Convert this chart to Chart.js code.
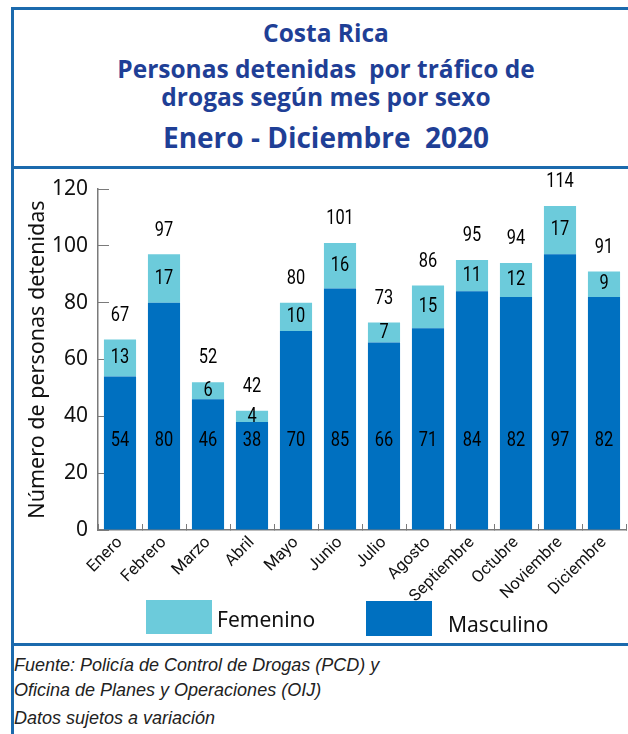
<!DOCTYPE html>
<html>
<head>
<meta charset="utf-8">
<script src="https://cdn.jsdelivr.net/npm/chart.js"></script>
<style>
  body { margin: 0; background: #fff; }
  #page { position: relative; width: 628px; height: 734px; overflow: hidden; background: #fff; }
  .rule { position: absolute; background: #1b6aad; }
  .ttl { position: absolute; left: 12px; width: 628px; text-align: center; color: #1f3f96; line-height: 1;
         font-family: "Open Sans", sans-serif; font-weight: 700; white-space: pre; }
  .foot { position: absolute; left: 14px; font-family: "Liberation Sans", sans-serif; font-style: italic;
          font-size: 18px; color: #222; white-space: pre; }
  #chartBox { position: absolute; left: 14px; top: 170px; width: 614px; height: 473px; }
  .lg-box { position: absolute; }
  .lg-txt { position: absolute; font-family: "Noto Sans", sans-serif; font-size: 21px; color: #111; }
</style>
</head>
<body>
<div id="page">
  <div class="rule" style="left:11px;top:7px;width:617px;height:3px"></div>
  <div class="rule" style="left:11px;top:7px;width:3px;height:727px"></div>
  <div class="rule" style="left:11px;top:166px;width:617px;height:3px"></div>
  <div class="rule" style="left:11px;top:643px;width:617px;height:3px"></div>

  <div class="ttl" style="top:21px;font-size:24.5px">Costa Rica</div>
  <div class="ttl" style="top:57px;font-size:24.5px">Personas detenidas  por tráfico de</div>
  <div class="ttl" style="top:85px;font-size:24.5px">drogas según mes por sexo</div>
  <div class="ttl" style="top:123px;font-size:28px">Enero - Diciembre  2020</div>

  <div id="chartBox"><canvas id="chart"></canvas></div>
  <div id="legend"></div>

  <div class="foot" style="top:655px">Fuente: Policía de Control de Drogas (PCD) y</div>
  <div class="foot" style="top:680px">Oficina de Planes y Operaciones (OIJ)</div>
  <div class="foot" style="top:708px">Datos sujetos a variación</div>
</div>

<script>
// values
const meses = ['Enero', 'Febrero', 'Marzo', 'Abril', 'Mayo', 'Junio', 'Julio',
               'Agosto', 'Septiembre', 'Octubre', 'Noviembre', 'Diciembre'];
const masculino = [54, 80, 46, 38, 70, 85, 66, 71, 84, 82, 97, 82];
const femenino = [13, 17, 6, 4, 10, 16, 7, 15, 11, 12, 17, 9];
const yTicks = [0, 20, 40, 60, 80, 100, 120];

const COLOR_MASC = '#0070c0';
const COLOR_FEM = '#6ccbdb';
const AXIS_GREY = '#7a7a7a';

// condensed-looking text: squeeze horizontally
function narrowText(ctx, txt, x, y, squeeze) {
    ctx.save();
    ctx.translate(x, y);
    ctx.scale(squeeze, 1);
    ctx.fillText(txt, 0, 0);
    ctx.restore();
}

// value labels: masculino at a fixed height, femenino centred, totals on top
const valueLabels = {
    id: 'valueLabels',
    afterDatasetsDraw(chart) {
        const ctx = chart.ctx;
        const yScale = chart.scales.y;
        const m = chart.getDatasetMeta(0);
        const f = chart.getDatasetMeta(1);
        ctx.save();
        ctx.fillStyle = '#000';
        ctx.font = '21px Roboto, sans-serif';
        ctx.textAlign = 'center';
        ctx.textBaseline = 'middle';
        const mascY = yScale.getPixelForValue(31.5);
        for (let i = 0; i < meses.length; i++) {
            const mb = m.data[i];
            const fb = f.data[i];
            narrowText(ctx, String(masculino[i]), mb.x, mascY, 0.78);
            narrowText(ctx, String(femenino[i]), fb.x, (fb.y + fb.base) / 2, 0.78);
            narrowText(ctx, String(masculino[i] + femenino[i]), fb.x, fb.y - 24, 0.78);
        }
        ctx.restore();
    }
};

const chart = new Chart(document.getElementById('chart'), {
    type: 'bar',
    data: {
        labels: meses,
        datasets: [
            { label: 'Masculino', data: masculino, backgroundColor: COLOR_MASC,
              barPercentage: 0.73, categoryPercentage: 1.0 },
            { label: 'Femenino', data: femenino, backgroundColor: COLOR_FEM,
              barPercentage: 0.73, categoryPercentage: 1.0 }
        ]
    },
    options: {
        responsive: true,
        maintainAspectRatio: false,
        animation: false,
        layout: { padding: { top: 19, right: 2, bottom: 40, left: 0 } },
        plugins: {
            legend: { display: false },
            tooltip: { enabled: false }
        },
        scales: {
            x: {
                stacked: true,
                grid: { display: true, drawOnChartArea: false, drawTicks: true,
                        tickLength: -6, color: AXIS_GREY, lineWidth: 1 },
                border: { display: true, color: AXIS_GREY, width: 1.5 },
                ticks: { color: '#111', autoSkip: false, minRotation: 45, maxRotation: 45,
                         padding: 9, font: { family: 'Roboto, sans-serif', size: 16.5 } },
                afterFit(s) { s.height = 73; }
            },
            y: {
                stacked: true,
                min: 0,
                max: 120,
                afterBuildTicks(s) { s.ticks = yTicks.map(v => ({ value: v })); },
                grid: { display: true, drawOnChartArea: false, drawTicks: true,
                        tickLength: -11, color: AXIS_GREY, lineWidth: 1 },
                border: { display: true, color: AXIS_GREY, width: 1.5 },
                ticks: { color: '#111', padding: 21, font: { family: '"Noto Sans", sans-serif', size: 21 } },
                title: { display: true, text: 'Número de personas detenidas', color: '#111',
                         padding: { top: 11, bottom: 0 },
                         font: { family: '"Noto Sans", sans-serif', size: 21.5 } },
                afterFit(s) {
                    s.width = 84;
                    // the inward ticks need a large label padding; keep it out of the layout
                    s.paddingTop = 0;
                    s.paddingBottom = 0;
                }
            }
        }
    },
    plugins: [valueLabels]
});

// legend built from the datasets (Femenino first, as in the reference)
const legendSpots = [
    { box: [146, 600, 66, 34], txt: [217, 605] },
    { box: [366, 601, 66, 35], txt: [448, 610] }
];
const legendEl = document.getElementById('legend');
chart.data.datasets.slice().reverse().forEach((ds, k) => {
    const s = legendSpots[k];
    const b = document.createElement('div');
    b.className = 'lg-box';
    b.style.cssText = `left:${s.box[0]}px;top:${s.box[1]}px;width:${s.box[2]}px;height:${s.box[3]}px;background:${ds.backgroundColor}`;
    const t = document.createElement('div');
    t.className = 'lg-txt';
    t.style.cssText = `left:${s.txt[0]}px;top:${s.txt[1]}px`;
    t.textContent = ds.label;
    legendEl.appendChild(b);
    legendEl.appendChild(t);
});
</script>
</body>
</html>
